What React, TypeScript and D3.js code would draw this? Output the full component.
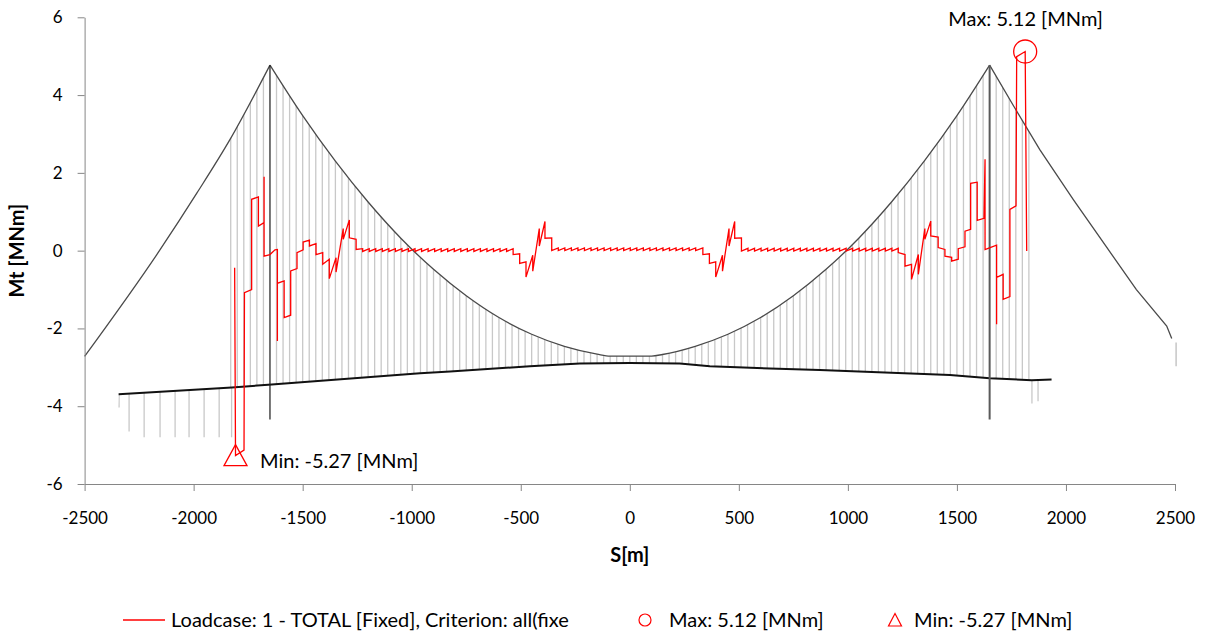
import React, { useEffect, useRef } from 'react';
import * as d3 from 'd3';

type Pt = [number, number];

const xTicks = [-2500, -2000, -1500, -1000, -500, 0, 500, 1000, 1500, 2000, 2500];
const yTicks = [-6, -4, -2, 0, 2, 4, 6];

// bridge geometry drawn behind the result (S [m], ordinate in chart units)
const cableLeft: Pt[] = [[-2500, -2.72], [-2153, 0.03], [-1984, 1.49], [-1833, 2.86], [-1650, 4.77]];
const cableMain: Pt[] = [
  [-1650, 4.77], [-1500, 3.47], [-1350, 2.3], [-1200, 1.25], [-1050, 0.32], [-900, -0.48],
  [-750, -1.16], [-600, -1.72], [-450, -2.15], [-300, -2.46], [-150, -2.66], [-90, -2.71],
  [0, -2.71], [100, -2.71], [150, -2.67], [300, -2.46], [450, -2.15], [600, -1.72], [750, -1.16],
  [900, -0.48], [1050, 0.32], [1200, 1.25], [1350, 2.3], [1500, 3.47], [1650, 4.77],
];
const cableRight: Pt[] = [
  [1650, 4.77], [1760, 3.72], [1880, 2.6], [2033, 1.32], [2180, 0.14], [2323, -1.0],
  [2462, -1.94], [2485, -2.26],
];
const deck: Pt[] = [
  [-2344, -3.69], [-1825, -3.52], [-1642, -3.44], [-962, -3.15], [-824, -3.11], [-458, -2.97],
  [-229, -2.9], [0, -2.89], [229, -2.9], [367, -2.97], [642, -3.03], [871, -3.07], [1468, -3.2],
  [1651, -3.28], [1843, -3.33], [1934, -3.31],
];
const towerS = [-1650, 1650];
const towerTop = [4.77, 4.77];
const towerBottom = [-4.34, -4.34];
const towerColor = ['#1a1a1a', '#5a5a5a'];
const towerWidth = [1.2, 2];

const hangerS = [
  -1620, -1590, -1560, -1530, -1500, -1470, -1440, -1410, -1380, -1350, -1320, -1290, -1260, -1230,
  -1200, -1170, -1140, -1110, -1080, -1050, -1020, -990, -960, -930, -900, -870, -840, -810, -780,
  -750, -720, -690, -660, -630, -600, -570, -540, -510, -480, -450, -420, -390, -360, -330, -300,
  -270, -240, -210, -180, -150, -120, -90, -60, -30, 0, 30, 60, 90, 120, 150, 180, 210, 240, 270,
  300, 330, 360, 390, 420, 450, 480, 510, 540, 570, 600, 630, 660, 690, 720, 750, 780, 810, 840,
  870, 900, 930, 960, 990, 1020, 1050, 1080, 1110, 1140, 1170, 1200, 1230, 1260, 1290, 1320, 1350,
  1380, 1410, 1440, 1470, 1500, 1530, 1560, 1590, 1620,
];
const backHangerS = [-1830, -1800, -1770, -1740, -1710, -1680, 1680, 1710, 1740, 1770, 1800, 1830];
const pierS = [-2342, -2296, -2227, -2154, -2085, -2021, -1952, -1883, -1826, 1844, 1872];
const pierBottom = [-4.03, -4.65, -4.8, -4.8, -4.8, -4.8, -4.8, -4.8, -4.8, -3.93, -3.87];
const anchorS = [2505];
const anchorTop = [-2.36];
const anchorBottom = [-2.97];

// Mt [MNm] along S [m]
const mtLeftTower: Pt[] = [
  [-1812, -0.44], [-1808, -5.27], [-1769, -5.13], [-1767, -1.08], [-1734, -1.0], [-1734, 1.32],
  [-1703, 1.38], [-1703, 0.63], [-1677, 0.72], [-1677, 1.9], [-1677, -0.14], [-1650, -0.1],
  [-1627, 0.02], [-1616, 0.03], [-1616, -2.32], [-1616, -0.84], [-1585, -0.78], [-1585, -1.72],
  [-1555, -1.66], [-1555, -0.52], [-1526, -0.46], [-1526, -0.05], [-1498, 0.02], [-1498, 0.22],
  [-1469, 0.27], [-1469, 0.12], [-1439, 0.18], [-1439, -0.1], [-1408, -0.05], [-1408, -0.35],
  [-1378, -0.22], [-1378, -0.72], [-1347, -0.18], [-1347, -0.55], [-1314, 0.57], [-1314, 0.29],
  [-1286, 0.79], [-1286, 0.33], [-1255, 0.29], [-1255, 0.03], [-1225, 0.05],
];
const mtLeftTeeth: Pt[] = [
  [-1225, -0.02], [-1195, 0.05], [-1195, -0.02], [-1165, 0.05], [-1165, -0.02], [-1135, 0.05],
  [-1135, -0.02], [-1105, 0.05], [-1105, -0.02], [-1075, 0.05], [-1075, -0.02], [-1045, 0.05],
  [-1045, -0.02], [-1015, 0.05], [-1015, -0.02], [-985, 0.05], [-985, -0.02], [-955, 0.05],
  [-955, -0.02], [-925, 0.05], [-925, -0.02], [-895, 0.05], [-895, -0.02], [-865, 0.05],
  [-865, -0.02], [-835, 0.05], [-835, -0.02], [-805, 0.05], [-805, -0.02], [-775, 0.05],
  [-775, -0.02], [-745, 0.05], [-745, -0.02], [-715, 0.05], [-715, -0.02], [-685, 0.05],
  [-685, -0.02], [-655, 0.05], [-655, -0.02], [-625, 0.05], [-625, -0.02], [-595, 0.05],
  [-595, -0.02], [-565, 0.05], [-565, -0.02], [-535, 0.05],
];
const mtLeftSpike: Pt[] = [
  [-535, -0.1], [-505, -0.08], [-505, -0.33], [-476, -0.29], [-476, -0.68], [-445, -0.12],
  [-445, -0.53], [-415, 0.57], [-415, 0.12], [-389, 0.75], [-389, 0.32], [-358, 0.33],
];
const mtMidTeeth: Pt[] = [
  [-358, 0.0], [-328, 0.07], [-328, 0.0], [-298, 0.07], [-298, 0.0], [-268, 0.07], [-268, 0.0],
  [-238, 0.07], [-238, 0.0], [-208, 0.07], [-208, 0.0], [-178, 0.07], [-178, 0.0], [-148, 0.07],
  [-148, 0.0], [-118, 0.07], [-118, 0.0], [-88, 0.07], [-88, 0.0], [-58, 0.07], [-58, 0.0],
  [-28, 0.07], [-28, 0.0], [2, 0.07], [2, 0.0], [32, 0.07], [32, 0.0], [62, 0.07], [62, 0.0],
  [92, 0.07], [92, 0.0], [122, 0.07], [122, 0.0], [152, 0.07], [152, 0.0], [182, 0.07], [182, 0.0],
  [212, 0.07], [212, 0.0], [242, 0.07], [242, 0.0], [272, 0.07], [272, 0.0], [302, 0.07],
  [302, 0.0], [335, 0.07],
];
const mtRightSpike: Pt[] = [
  [335, -0.1], [365, -0.08], [365, -0.33], [394, -0.29], [394, -0.68], [425, -0.12],
  [425, -0.53], [455, 0.57], [455, 0.12], [481, 0.75], [481, 0.32], [512, 0.33],
];
const mtRightTeeth: Pt[] = [
  [512, -0.01], [542, 0.06], [542, -0.01], [572, 0.06], [572, -0.01], [602, 0.06], [602, -0.01],
  [632, 0.06], [632, -0.01], [662, 0.06], [662, -0.01], [692, 0.06], [692, -0.01], [722, 0.06],
  [722, -0.01], [752, 0.06], [752, -0.01], [782, 0.06], [782, -0.01], [812, 0.06], [812, -0.01],
  [842, 0.06], [842, -0.01], [872, 0.06], [872, -0.01], [902, 0.06], [902, -0.01], [932, 0.06],
  [932, -0.01], [962, 0.06], [962, -0.01], [992, 0.06], [992, -0.01], [1022, 0.06], [1022, -0.01],
  [1052, 0.06], [1052, -0.01], [1082, 0.06], [1082, -0.01], [1112, 0.06], [1112, -0.01],
  [1142, 0.06], [1142, -0.01], [1172, 0.06], [1172, -0.01], [1202, 0.06], [1202, -0.01],
  [1231, 0.06],
];
const mtRightTower: Pt[] = [
  [1231, -0.05], [1262, -0.1], [1262, -0.4], [1292, -0.35], [1292, -0.74], [1323, -0.1],
  [1323, -0.61], [1353, 0.57], [1353, 0.29], [1380, 0.76], [1380, 0.38], [1414, 0.35],
  [1414, 0.08], [1445, 0.03], [1445, -0.14], [1476, -0.17], [1476, -0.27], [1506, -0.22],
  [1506, 0.05], [1537, 0.1], [1537, 0.5], [1563, 0.55], [1563, 1.73], [1593, 1.76], [1593, 0.78],
  [1624, 0.83], [1629, 2.35], [1629, 0.03], [1652, 0.08], [1682, 0.14], [1682, -1.89],
  [1682, -0.69], [1712, -0.61], [1712, -1.25], [1743, -1.18], [1743, 1.06], [1771, 1.15],
  [1774, 4.99], [1813, 5.12], [1820, -0.01],
];
const maxPoint: Pt = [1813, 5.12];
const minPoint: Pt = [-1808, -5.27];
const maxLabel = 'Max: 5.12 [MNm]';
const minLabel = 'Min: -5.27 [MNm]';
const seriesLabel = 'Loadcase: 1 - TOTAL [Fixed], Criterion: all(fixe';

export default function App() {
  const svgRef = useRef<SVGSVGElement>(null);
  const width = 1205;
  const height = 635;

  useEffect(() => {
    const svg = d3.select(svgRef.current);
    svg.selectAll('*').remove();
    const font = 'Lato, "Open Sans", sans-serif';
    const red = '#ff0000';

    const x = d3.scaleLinear().domain([-2500, 2500]).range([84.6, 1175]);
    const y = d3.scaleLinear().domain([-6, 6]).range([484, 17.3]);

    const line = d3.line<Pt>().x((d) => x(d[0])).y((d) => y(d[1]));
    const smooth = d3
      .line<Pt>()
      .x((d) => x(d[0]))
      .y((d) => y(d[1]))
      .curve(d3.curveMonotoneX);

    const cablePaths = [smooth(cableLeft), smooth(cableMain), line(cableRight)] as string[];

    // clip regions: between cable and deck (hangers), below deck (piers)
    const defs = svg.append('defs');
    const hangerClip =
      cablePaths[0] +
      cablePaths[1].replace(/^M/, 'L') +
      cablePaths[2].replace(/^M/, 'L') +
      (line(deck.slice().reverse()) as string).replace(/^M/, 'L') +
      'Z';
    defs.append('clipPath').attr('id', 'hangerClip').append('path').attr('d', hangerClip);
    const first = deck[0];
    const last = deck[deck.length - 1];
    const pierClip =
      (line(deck) as string) + `L${x(last[0]) + 4},${y(-6)}L${x(first[0]) - 4},${y(-6)}Z`;
    defs.append('clipPath').attr('id', 'pierClip').append('path').attr('d', pierClip);

    // hangers
    svg
      .append('g')
      .attr('clip-path', 'url(#hangerClip)')
      .selectAll('line')
      .data([...hangerS, ...backHangerS])
      .join('line')
      .attr('x1', (d) => x(d))
      .attr('x2', (d) => x(d))
      .attr('y1', y(6))
      .attr('y2', y(-6))
      .attr('stroke', '#c8c8c8')
      .attr('stroke-width', 1.3);

    // piers under the deck
    svg
      .append('g')
      .attr('clip-path', 'url(#pierClip)')
      .selectAll('line')
      .data(pierS)
      .join('line')
      .attr('x1', (d) => x(d))
      .attr('x2', (d) => x(d))
      .attr('y1', y(6))
      .attr('y2', (_, i) => y(pierBottom[i]))
      .attr('stroke', '#c8c8c8')
      .attr('stroke-width', 1.3);

    svg
      .selectAll('line.anchor')
      .data(anchorS)
      .join('line')
      .attr('class', 'anchor')
      .attr('x1', (d) => x(d))
      .attr('x2', (d) => x(d))
      .attr('y1', (_, i) => y(anchorTop[i]))
      .attr('y2', (_, i) => y(anchorBottom[i]))
      .attr('stroke', '#bdbdbd')
      .attr('stroke-width', 1.3);

    // cables
    svg
      .selectAll('path.cable')
      .data(cablePaths)
      .join('path')
      .attr('class', 'cable')
      .attr('d', (d) => d)
      .attr('fill', 'none')
      .attr('stroke', '#4a4a4a')
      .attr('stroke-width', 1.3);

    // deck
    svg
      .append('path')
      .attr('d', line(deck))
      .attr('fill', 'none')
      .attr('stroke', '#111')
      .attr('stroke-width', 2);

    // towers
    svg
      .selectAll('line.tower')
      .data(towerS)
      .join('line')
      .attr('class', 'tower')
      .attr('x1', (d) => x(d))
      .attr('x2', (d) => x(d))
      .attr('y1', (_, i) => y(towerTop[i]))
      .attr('y2', (_, i) => y(towerBottom[i]))
      .attr('stroke', (_, i) => towerColor[i])
      .attr('stroke-width', (_, i) => towerWidth[i]);

    // axes
    const yAxis = svg
      .append('g')
      .attr('transform', `translate(${x(-2500)},0)`)
      .call(
        d3
          .axisLeft(y)
          .tickValues(yTicks)
          .tickSize(7)
          .tickSizeOuter(0)
          .tickPadding(15)
          .tickFormat((d) => String(d))
      );
    const xAxis = svg
      .append('g')
      .attr('transform', `translate(0,${y(-6)})`)
      .call(
        d3
          .axisBottom(x)
          .tickValues(xTicks)
          .tickSize(7)
          .tickSizeOuter(0)
          .tickPadding(21)
          .tickFormat((d) => String(d))
      );
    [yAxis, xAxis].forEach((g) => {
      g.attr('font-family', font).attr('font-size', 17);
      g.select('.domain').attr('stroke', '#868686');
      g.selectAll('.tick line').attr('stroke', '#868686');
      g.selectAll('.tick text').attr('fill', '#000');
    });

    svg
      .append('text')
      .attr('transform', `translate(24,${y(0)}) rotate(-90)`)
      .attr('text-anchor', 'middle')
      .attr('font-family', font)
      .attr('font-weight', 'bold')
      .attr('font-size', 20)
      .text('Mt [MNm]');
    svg
      .append('text')
      .attr('x', x(0))
      .attr('y', 562)
      .attr('text-anchor', 'middle')
      .attr('font-family', font)
      .attr('font-weight', 'bold')
      .attr('font-size', 20)
      .text('S[m]');

    // result line
    const mtAll = [
      ...mtLeftTower,
      ...mtLeftTeeth,
      ...mtLeftSpike,
      ...mtMidTeeth,
      ...mtRightSpike,
      ...mtRightTeeth,
      ...mtRightTower,
    ];
    svg
      .append('path')
      .attr('d', line(mtAll))
      .attr('fill', 'none')
      .attr('stroke', red)
      .attr('stroke-width', 1.3);

    // extreme markers and labels
    svg
      .append('circle')
      .attr('cx', x(maxPoint[0]))
      .attr('cy', y(maxPoint[1]))
      .attr('r', 11.5)
      .attr('fill', 'none')
      .attr('stroke', red)
      .attr('stroke-width', 1.3);
    svg
      .append('path')
      .attr('transform', `translate(${x(minPoint[0])},${y(minPoint[1])})`)
      .attr('d', 'M0,-11L11.5,10L-11.5,10Z')
      .attr('fill', 'none')
      .attr('stroke', red)
      .attr('stroke-width', 1.3);
    svg
      .append('text')
      .attr('x', x(maxPoint[0]) - 77)
      .attr('y', y(maxPoint[1]) - 26)
      .attr('font-family', font)
      .attr('font-size', 20)
      .text(maxLabel);
    svg
      .append('text')
      .attr('x', x(minPoint[0]) + 24.5)
      .attr('y', y(minPoint[1]) + 12.4)
      .attr('font-family', font)
      .attr('font-size', 20)
      .text(minLabel);

    // legend
    const lg = svg.append('g').attr('font-family', font).attr('font-size', 20);
    const ly = 620;
    lg.append('line')
      .attr('x1', 123)
      .attr('x2', 165)
      .attr('y1', ly)
      .attr('y2', ly)
      .attr('stroke', red)
      .attr('stroke-width', 1.3);
    lg.append('text').attr('x', 171).attr('y', ly + 7).text(seriesLabel);
    lg.append('circle')
      .attr('cx', 645)
      .attr('cy', ly)
      .attr('r', 6)
      .attr('fill', 'none')
      .attr('stroke', red)
      .attr('stroke-width', 1.2);
    lg.append('text').attr('x', 669).attr('y', ly + 7).text(maxLabel);
    lg.append('path')
      .attr('transform', `translate(895,${ly})`)
      .attr('d', 'M0,-6.5L6.5,6L-6.5,6Z')
      .attr('fill', 'none')
      .attr('stroke', red)
      .attr('stroke-width', 1.2);
    lg.append('text').attr('x', 914).attr('y', ly + 7).text(minLabel);
  }, []);

  return (
    <svg
      ref={svgRef}
      width={width}
      height={height}
      style={{ position: 'absolute', left: 0, top: 0, background: '#fff' }}
    />
  );
}
